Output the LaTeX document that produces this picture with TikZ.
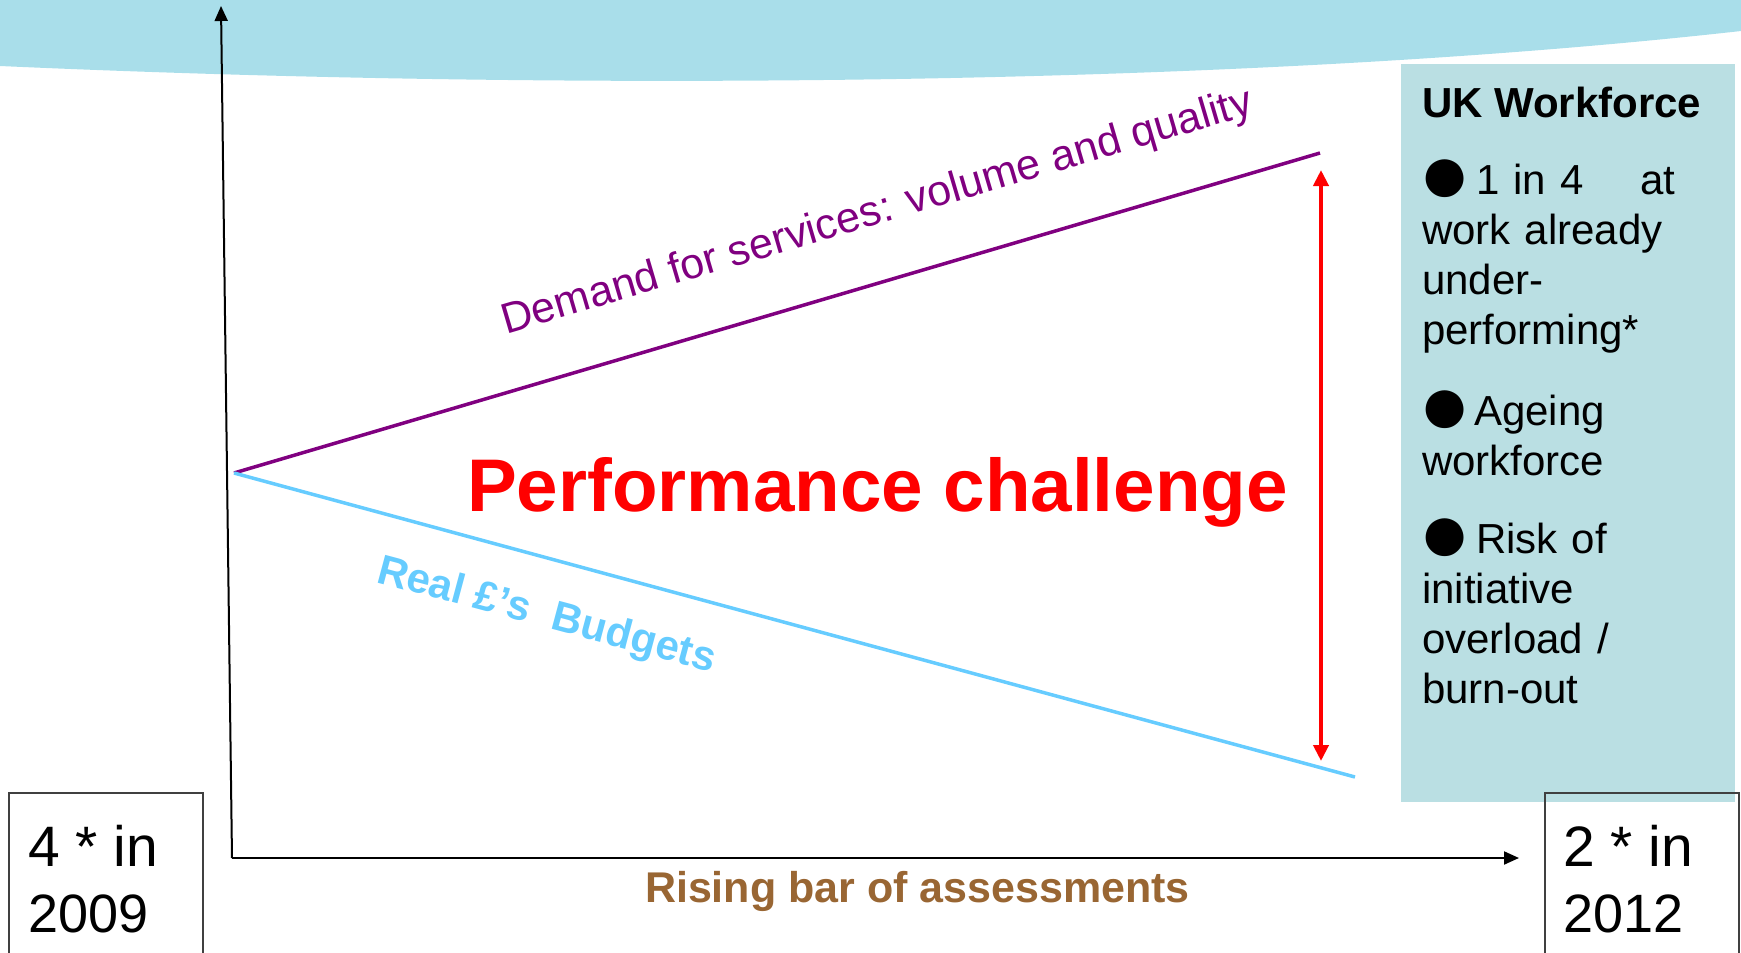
\documentclass[tikz,border=0pt]{standalone}
\usepackage{fontspec}
\setmainfont{Liberation Sans}
\usetikzlibrary{arrows.meta}

\definecolor{bandblue}{HTML}{A9DEEA}
\definecolor{panelteal}{HTML}{BADFE3}
\definecolor{demandpurple}{HTML}{800080}
\definecolor{budgetblue}{HTML}{66CCFF}
\definecolor{gapred}{HTML}{FF0000}
\definecolor{barbrown}{HTML}{996633}
\definecolor{framegrey}{HTML}{404040}

% large round bullet used in the workforce panel, in a box of fixed width
\newcommand{\wfbullet}{\makebox[54pt][l]{\kern-4pt\raisebox{-9pt}{\fontsize{88}{50}\selectfont ●}}}
% slightly larger first line of the year boxes
\newcommand{\yearhead}[1]{{\fontsize{57}{66}\selectfont #1}}

\begin{document}
\begin{tikzpicture}[x=1pt,y=-1pt,
  txt/.style={inner sep=0pt, outer sep=0pt, anchor=base west},
  body/.style={txt, font=\fontsize{42}{50}\selectfont},
  bodybold/.style={txt, font=\fontsize{42}{50}\selectfont\bfseries},
  year/.style={txt, font=\fontsize{54}{66}\selectfont, align=left},
  para/.style={body, text width=300pt, align=left},
  axisline/.style={line width=2pt, draw=black, -{Triangle[length=15pt,width=13pt]}},
  yearframe/.style={draw=framegrey, line width=1.5pt},
  trend/.style={line width=3.5pt},
  gaparrow/.style={draw=gapred, line width=4pt,
    {Triangle[length=16pt,width=15pt]}-{Triangle[length=16pt,width=15pt]}}]

\useasboundingbox (0,0) rectangle (1741,953);

% curved header band
\fill[bandblue] (0,0) -- (1741,0) -- (1741,31)
  .. controls (1250,86) and (580,92) .. (0,66) -- cycle;

% workforce panel
\node[fill=panelteal, inner sep=0pt, minimum width=334pt, minimum height=738pt,
  anchor=north west] (panel) at (1401,64) {};
\node[bodybold] (wftitle) at (1422,117) {UK Workforce};
\node[para] (wf1) at (1422,194)
  {\wfbullet 1 in 4\hspace{57pt}at\\work already\\under-\\performing*};
\node[para] (wf2) at (1422,425) {\wfbullet\kern-2pt Ageing\\workforce};
\node[para] (wf3) at (1422,553)
  {\wfbullet Risk of\\initiative\\overload /\\burn-out};

% axes
\coordinate (origin) at (232,858);
\coordinate (ytip) at (221,6);
\coordinate (xtip) at (1519,858);
\draw[axisline] (origin) -- (ytip);
\draw[axisline] (origin) -- (xtip);

% diverging trend lines
\coordinate (apex) at (234,473);
\coordinate (demandend) at (1320,153);
\coordinate (budgetend) at (1355,777);
\draw[trend, demandpurple] (apex) -- (demandend);
\draw[trend, budgetblue] (apex) -- (budgetend);

% widening gap
\coordinate (gaptop) at (1321,170);
\coordinate (gapbottom) at (1321,761);
\draw[gaparrow] (gaptop) -- (gapbottom);

% labels
\node[txt, font=\fontsize{43}{50}\selectfont, rotate=16.4, text=demandpurple]
  (demandlabel) at (506,334) {Demand for services: volume and quality};
\node[bodybold, rotate=-15, text=budgetblue] (budgetlabel) at (375,582)
  {Real £’s\hspace{11.7pt} Budgets};
\node[txt, font=\fontsize{74.6}{80}\selectfont\bfseries, text=gapred] (gaplabel)
  at (467,511) {Performance challenge};
\node[txt, font=\fontsize{43}{50}\selectfont\bfseries, text=barbrown] (barlabel)
  at (645,902) {Rising bar of assessments};

% year boxes (the last line of each node sits on its base anchor)
\draw[yearframe] (9,960) |- (203,793) -- (203,960);
\node[year] (startyear) at (28,932) {\yearhead{4 * in}\\2009};
\draw[yearframe] (1545,960) |- (1739,793) -- (1739,960);
\node[year] (endyear) at (1563,932) {\yearhead{2 * in}\\2012};

\end{tikzpicture}
\end{document}
